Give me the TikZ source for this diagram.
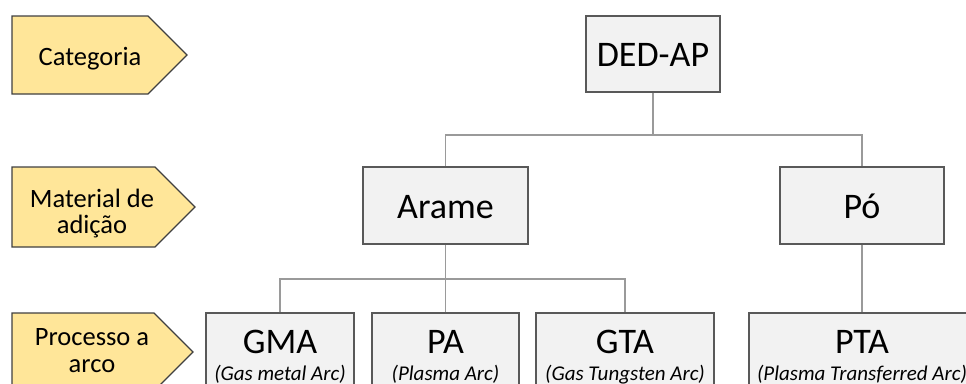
\documentclass[tikz,border=0pt]{standalone}
\usepackage{fontspec}
\setmainfont{Carlito}
\begin{document}
\begin{tikzpicture}[x=1pt,y=-1pt,
  box/.style={draw=boxline,fill=boxfill,line width=1.4pt,inner sep=0pt,minimum height=77pt},
  tag/.style={draw=tagline,fill=tagfill,line width=1.2pt,line join=miter},
  conn/.style={draw=connline,line width=1.1pt},
  big/.style={anchor=base,inner sep=0pt,font=\fontsize{36}{40}\selectfont},
  small/.style={anchor=base,inner sep=0pt,font=\fontsize{21}{23}\selectfont\itshape},
  lbl/.style={anchor=base,inner sep=0pt,align=center,font=\fontsize{26.5}{26.5}\selectfont}]
\definecolor{boxfill}{HTML}{F2F2F2}
\definecolor{boxline}{HTML}{595959}
\definecolor{tagfill}{HTML}{FFE699}
\definecolor{tagline}{HTML}{404040}
\definecolor{connline}{HTML}{9A9A9A}
\useasboundingbox (0,0) rectangle (966,383);
\clip (0,0) rectangle (966,383);

% level tags
\draw[tag] (12,16) -- (148,16) -- (187,55) -- (148,94) -- (12,94) -- cycle;
\draw[tag] (12,167) -- (155,167) -- (195,207) -- (155,247) -- (12,247) -- cycle;
\draw[tag] (12,313) -- (154,313) -- (193,352) -- (154,391) -- (12,391) -- cycle;
\node[lbl] (tcat) at (90,65) {Categoria};
\node[lbl] (tmat) at (92,207) {Material de};
\node[lbl] (tmat2) at (92,233) {adição};
\node[lbl] (tpro) at (92,345) {Processo a};
\node[lbl] (tpro2) at (92,372) {arco};

% tree boxes
\node[box,minimum width=134pt,minimum height=76pt] (ded) at (653,54) {};
\node[box,minimum width=165pt] (arame) at (445.5,205.5) {};
\node[box,minimum width=164pt] (po) at (862,205.5) {};
\node[box,minimum width=148pt,minimum height=100pt] (gma) at (280,363) {};
\node[box,minimum width=147pt,minimum height=100pt] (pa) at (445.5,363) {};
\node[box,minimum width=178pt,minimum height=100pt] (gta) at (625,363) {};
\node[box,minimum width=226pt,minimum height=100pt] (pta) at (862,363) {};

\node[big] (tded) at (ded.center |- 0,66) {DED-AP};
\node[big] (tarame) at (arame.center |- 0,218) {Arame};
\node[big] (tpo) at (po.center |- 0,218) {Pó};
\node[big] (tgma) at (gma.center |- 0,353) {GMA};
\node[big] (tpa) at (pa.center |- 0,353) {PA};
\node[big] (tgta) at (gta.center |- 0,353) {GTA};
\node[big] (tpta) at (pta.center |- 0,353) {PTA};
\node[small] (sgma) at (gma.center |- 0,380) {(Gas metal Arc)};
\node[small] (spa) at (pa.center |- 0,380) {(Plasma Arc)};
\node[small] (sgta) at (gta.center |- 0,380) {(Gas Tungsten Arc)};
\node[small] (spta) at (pta.center |- 0,380) {(Plasma Transferred Arc)};

% connectors
\coordinate (bus1) at (653,135);
\coordinate (bus2) at (445.5,279);
\draw[conn] (ded.south) -- (bus1);
\draw[conn] (arame.north) -- (arame.north |- bus1) -- (po.north |- bus1) -- (po.north);
\draw[conn] (arame.south) -- (bus2);
\draw[conn] (gma.north) -- (gma.north |- bus2) -- (gta.north |- bus2) -- (gta.north);
\draw[conn] (pa.north) -- (pa.north |- bus2);
\draw[conn] (po.south) -- (pta.north);
\end{tikzpicture}
\end{document}
